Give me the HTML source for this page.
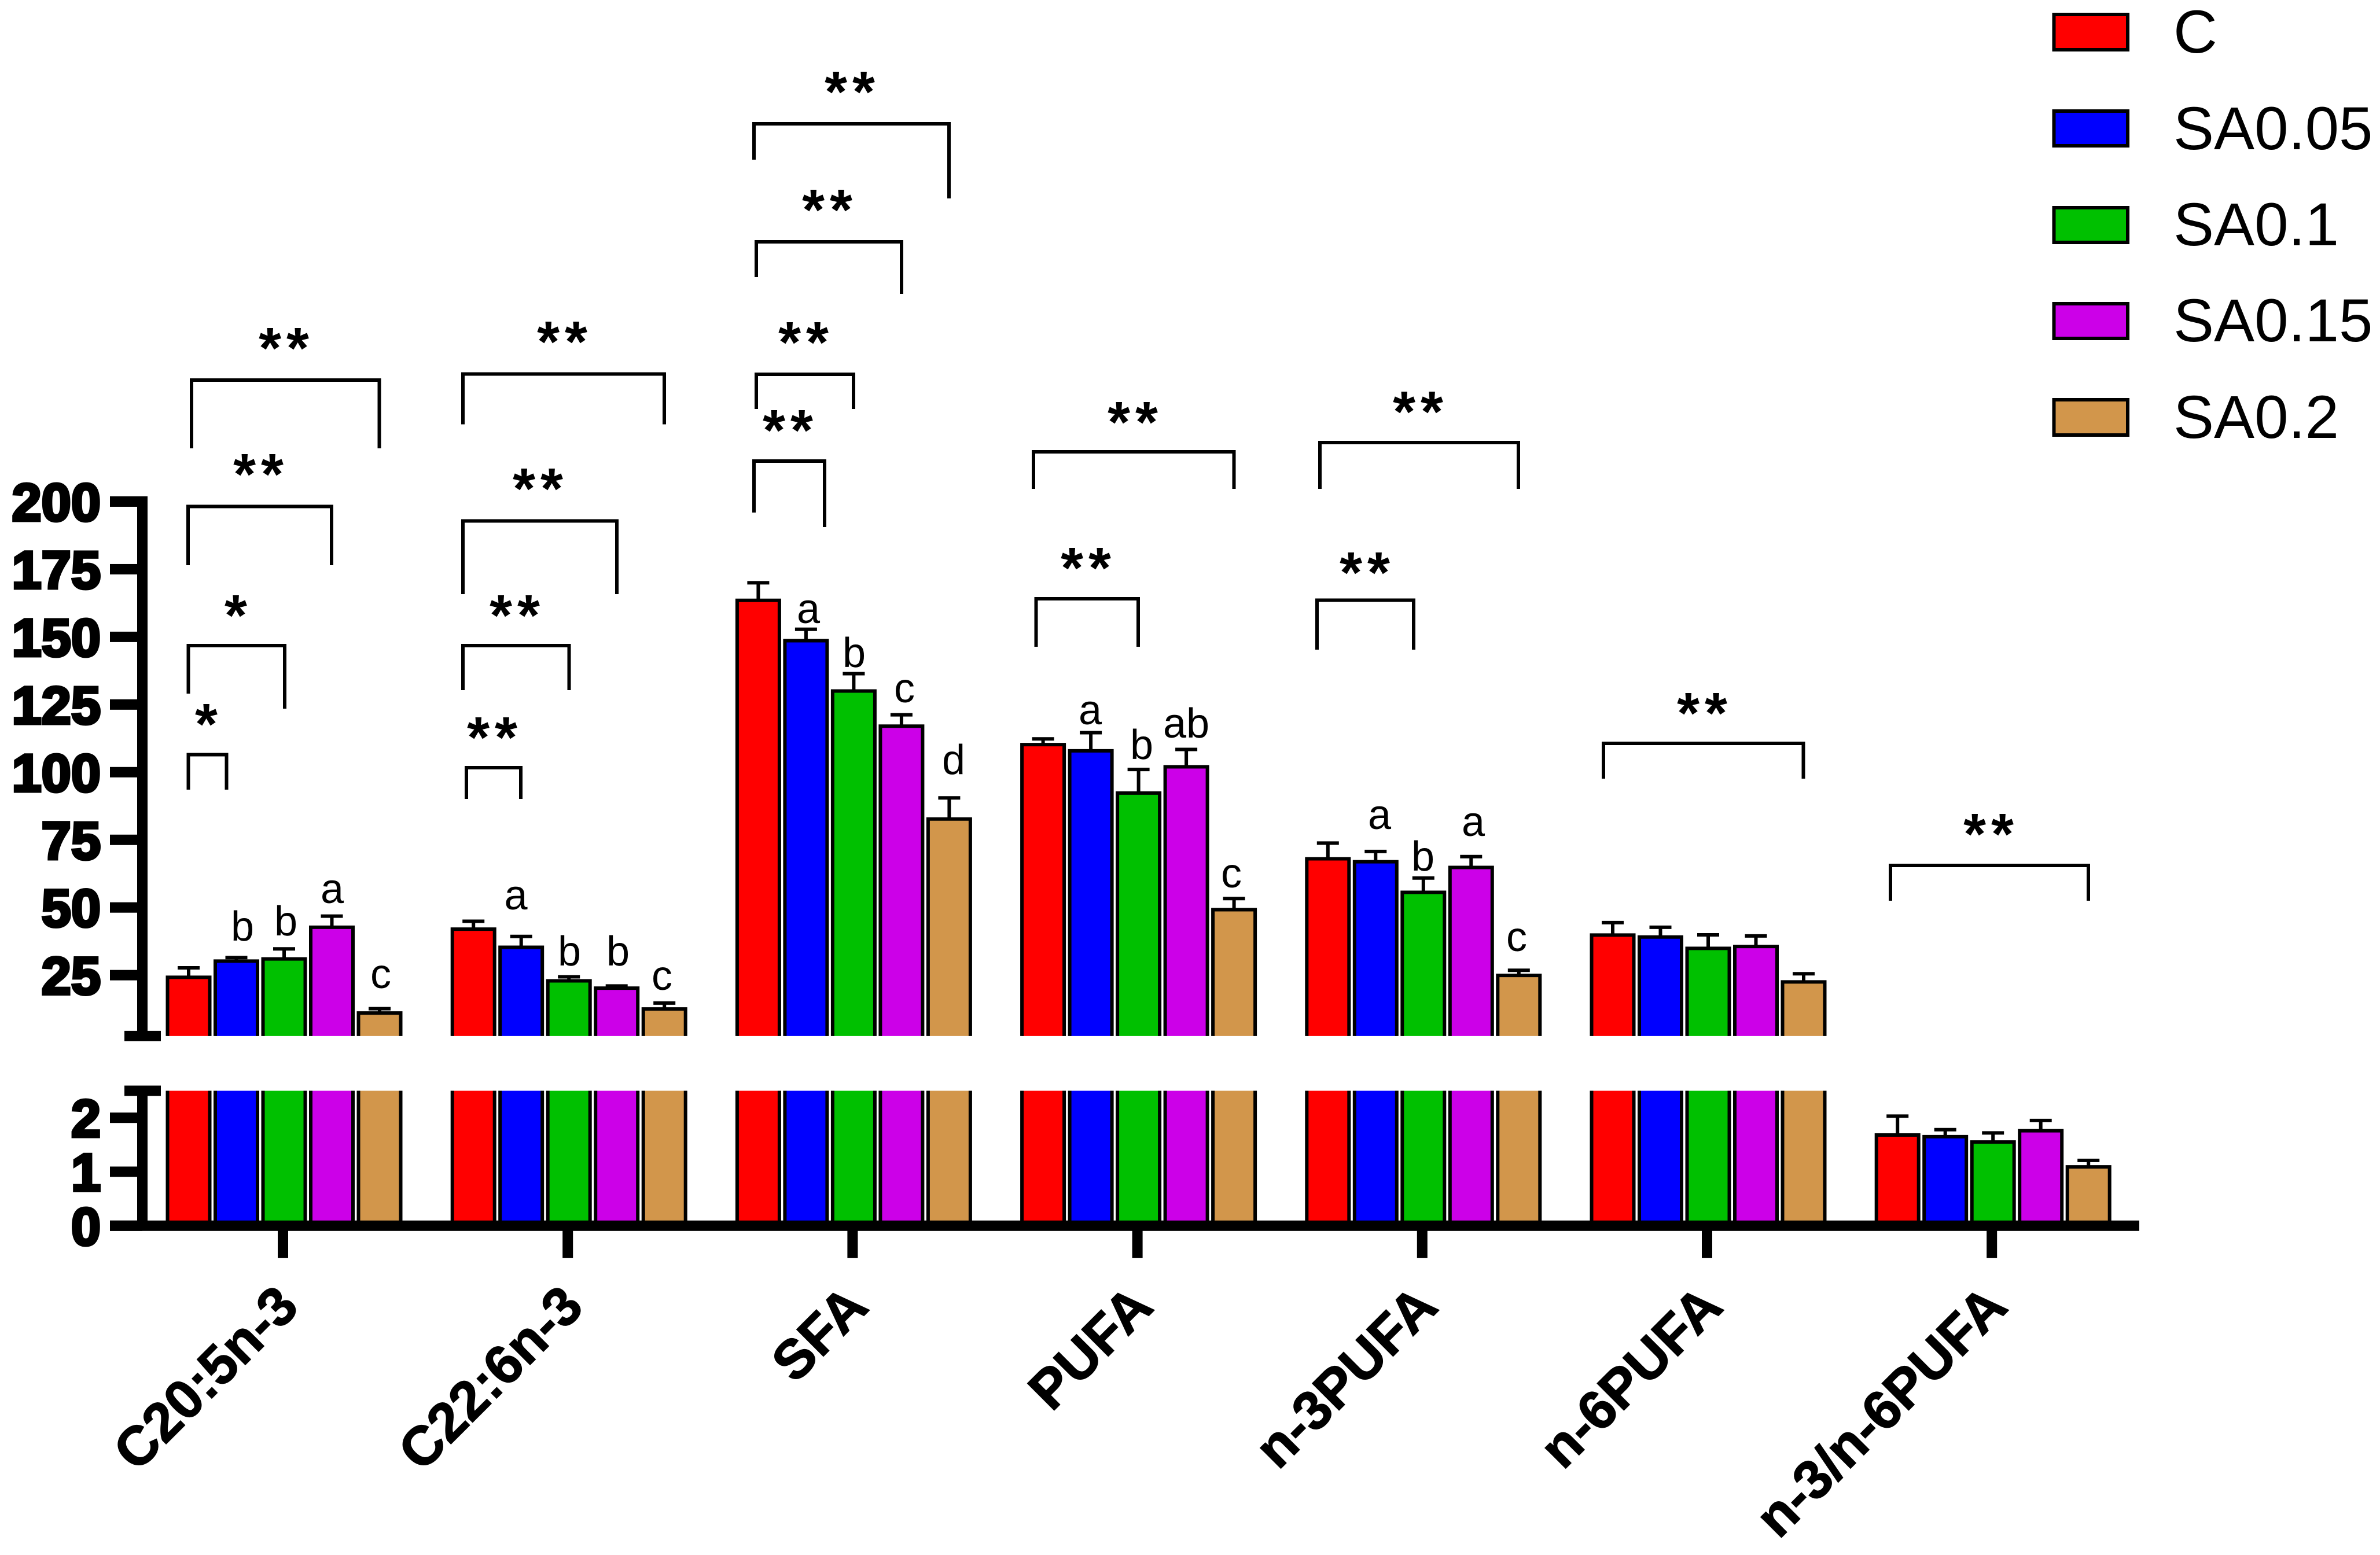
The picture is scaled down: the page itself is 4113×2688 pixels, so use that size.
<!DOCTYPE html>
<html lang="en">
<head>
<meta charset="utf-8">
<title>Fatty acid composition bar chart</title>
<style>
html,body{margin:0;padding:0;background:#fff;}
svg{display:block;font-family:"Liberation Sans",sans-serif;}
.bk{fill:none;stroke:#000;stroke-width:6;}
.st{font-size:100px;font-weight:700;text-anchor:middle;letter-spacing:9px;}
.lt{font-size:72px;text-anchor:middle;}
.lg{font-size:105px;}
</style>
</head>
<body>
<svg id="chart" xmlns="http://www.w3.org/2000/svg" width="4113" height="2688" viewBox="0 0 4113 2688">
<rect width="4113" height="2688" fill="#fff"/>
<g id="marks"></g>
<g id="axes"></g>

<g>
<path class="bk" d="M325.5 1365V1304.5H391.5V1365"/>
<path class="bk" d="M325.5 1199V1116H492V1225"/>
<path class="bk" d="M325 977V875.5H573V977"/>
<path class="bk" d="M331 775V657H655.5V775"/>
<path class="bk" d="M806 1381V1327H900V1381"/>
<path class="bk" d="M800 1193V1116H983.5V1193"/>
<path class="bk" d="M800 1027V900.5H1066V1027"/>
<path class="bk" d="M800 733.5V646.5H1148V733.5"/>
<path class="bk" d="M1303 886V797H1425V911"/>
<path class="bk" d="M1307 707V647H1475V707"/>
<path class="bk" d="M1307 479V418H1558V508"/>
<path class="bk" d="M1303 276V214H1640V343"/>
<path class="bk" d="M1790.5 1118V1035H1967V1118"/>
<path class="bk" d="M1786 845V781H2132.5V845"/>
<path class="bk" d="M2276 1123V1037.5H2443V1123"/>
<path class="bk" d="M2281 845V765H2624V845"/>
<path class="bk" d="M2771 1346V1285H3116.5V1346"/>
<path class="bk" d="M3267 1557V1496H3609V1557"/>
</g>

<g transform="translate(5 -14)">
<text class="st" x="356" y="1300">*</text>
<text class="st" x="407" y="1112">*</text>
<text class="st" x="446" y="868">**</text>
<text class="st" x="490" y="650">**</text>
<text class="st" x="850" y="1323">**</text>
<text class="st" x="889" y="1112">**</text>
<text class="st" x="929" y="893">**</text>
<text class="st" x="971" y="639">**</text>
<text class="st" x="1361" y="792">**</text>
<text class="st" x="1388" y="640">**</text>
<text class="st" x="1429" y="411">**</text>
<text class="st" x="1468" y="207">**</text>
<text class="st" x="1876" y="1030">**</text>
<text class="st" x="1957" y="778">**</text>
<text class="st" x="2358" y="1038">**</text>
<text class="st" x="2450" y="760">**</text>
<text class="st" x="2941" y="1281">**</text>
<text class="st" x="3436" y="1490">**</text>
</g>

<g>
<text class="lt" x="419" y="1626">b</text>
<text class="lt" x="494" y="1617">b</text>
<text class="lt" x="574" y="1561">a</text>
<text class="lt" x="658" y="1708">c</text>
<text class="lt" x="891.5" y="1572">a</text>
<text class="lt" x="984" y="1669">b</text>
<text class="lt" x="1068" y="1669">b</text>
<text class="lt" x="1144" y="1711">c</text>
<text class="lt" x="1397" y="1077">a</text>
<text class="lt" x="1476" y="1153">b</text>
<text class="lt" x="1563" y="1214">c</text>
<text class="lt" x="1648" y="1338">d</text>
<text class="lt" x="1884" y="1252">a</text>
<text class="lt" x="1973" y="1312">b</text>
<text class="lt" x="2050" y="1275">ab</text>
<text class="lt" x="2128" y="1534">c</text>
<text class="lt" x="2384" y="1433">a</text>
<text class="lt" x="2459" y="1505">b</text>
<text class="lt" x="2546" y="1445">a</text>
<text class="lt" x="2621" y="1644">c</text>
</g>

<g>
<g>
<rect x="3549.5" y="25" width="127.5" height="61" fill="#ff0000" stroke="#000" stroke-width="6"/>
<text class="lg" x="3756" y="91">C</text>
</g>
<g>
<rect x="3549.5" y="192" width="127.5" height="60" fill="#0000ff" stroke="#000" stroke-width="6"/>
<text class="lg" x="3756" y="258">SA0.05</text>
</g>
<g>
<rect x="3549.5" y="359" width="127.5" height="60" fill="#00c000" stroke="#000" stroke-width="6"/>
<text class="lg" x="3756" y="424">SA0.1</text>
</g>
<g>
<rect x="3549.5" y="525" width="127.5" height="60" fill="#cc00e8" stroke="#000" stroke-width="6"/>
<text class="lg" x="3756" y="590">SA0.15</text>
</g>
<g>
<rect x="3549.5" y="691" width="127.5" height="61" fill="#d2964b" stroke="#000" stroke-width="6"/>
<text class="lg" x="3756" y="757">SA0.2</text>
</g>
</g>
</svg>

<script>
const categories = ["C20:5n-3", "C22:6n-3", "SFA", "PUFA", "n-3PUFA", "n-6PUFA", "n-3/n-6PUFA"];
const upperTickLabels = [25, 50, 75, 100, 125, 150, 175, 200];
const lowerTickLabels = [0, 1, 2];
const segmentBreak = 2.5;

const valuesC = [24.2, 42, 163.5, 110.2, 68, 39.8, 1.68];
const valuesSA005 = [30.2, 35.3, 148.6, 107.9, 66.9, 39.1, 1.65];
const valuesSA01 = [31, 22.9, 130, 92.3, 55.6, 34.9, 1.55];
const valuesSA015 = [42.7, 20.2, 117, 102, 64.8, 35.6, 1.76];
const valuesSA02 = [11, 12.5, 82.7, 49.2, 24.9, 22.5, 1.09];

const errorsC = [3.5, 2.9, 6.5, 2.1, 5.8, 4.6, 0.35];
const errorsSA005 = [1.3, 4, 4.2, 6.7, 3.8, 3.6, 0.13];
const errorsSA01 = [3.7, 1.5, 6.4, 8.7, 5.3, 5, 0.17];
const errorsSA015 = [4.1, 0.8, 4.2, 6.4, 4, 3.9, 0.19];
const errorsSA02 = [1.6, 2.2, 7.8, 4.1, 1.9, 3, 0.12];

const seriesNames = ["C", "SA0.05", "SA0.1", "SA0.15", "SA0.2"];
const seriesColors = ["#ff0000", "#0000ff", "#00c000", "#cc00e8", "#d2964b"];
const seriesValues = [valuesC, valuesSA005, valuesSA01, valuesSA015, valuesSA02];
const seriesErrors = [errorsC, errorsSA005, errorsSA01, errorsSA015, errorsSA02];

const NS = "http://www.w3.org/2000/svg";
const marks = document.getElementById("marks");
const axes = document.getElementById("axes");

function yUpper(v) { return 867 + (200 - v) * 4.678; }
function yLower(v) { return 2118.8 - v * 93.3; }
function yValue(v) { return v > segmentBreak ? yUpper(v) : yLower(v); }
function xTick(i) { return 489 + 492.2 * i; }
function xBar(i, s) { return xTick(i) + 2 + (s - 2) * 82.5; }

function make(tag, attrs, parent) {
  const el = document.createElementNS(NS, tag);
  for (const k in attrs) el.setAttribute(k, attrs[k]);
  parent.appendChild(el);
  return el;
}

const BAR_W = 73;
categories.forEach(function (cat, i) {
  seriesValues.forEach(function (vals, s) {
    const v = vals[i];
    const e = seriesErrors[s][i];
    const cx = xBar(i, s);
    const l = cx - BAR_W / 2;
    const r = cx + BAR_W / 2;
    const top = yValue(v);
    const cap = yValue(v + e);

    const err = make("path", {
      d: "M" + cx + " " + top + "V" + cap + "M" + (cx - 19) + " " + cap + "H" + (cx + 19),
      fill: "none", stroke: "#000", "stroke-width": 6
    }, marks);
    
    

    if (v > segmentBreak) {
      const upper = make("path", {
        d: "M" + l + " " + yUpper(segmentBreak) + "V" + top + "H" + r + "V" + yUpper(segmentBreak),
        fill: seriesColors[s], stroke: "#000", "stroke-width": 6
      }, marks);
      
      

      const lowerFill = make("rect", {
        x: l, y: yLower(segmentBreak), width: BAR_W, height: yLower(0) - yLower(segmentBreak),
        fill: seriesColors[s]
      }, marks);
      
      

      const lower = make("path", {
        d: "M" + l + " " + yLower(0) + "V" + yLower(segmentBreak) + "M" + r + " " + yLower(segmentBreak) + "V" + yLower(0),
        fill: "none", stroke: "#000", "stroke-width": 6
      }, marks);
      
      
    } else {
      const low = make("path", {
        d: "M" + l + " " + yLower(0) + "V" + top + "H" + r + "V" + yLower(0),
        fill: seriesColors[s], stroke: "#000", "stroke-width": 6
      }, marks);
      
      
    }
  });

  const tick = make("rect", { x: xTick(i) - 9, y: yLower(0), width: 18, height: 56, fill: "#000" }, axes);
  
  

  const tx = xTick(i) + 31;
  const ty = 2263;
  const label = make("text", {
    x: tx, y: ty, transform: "rotate(-45 " + tx + " " + ty + ")", "text-anchor": "end",
    "font-size": 95, "font-weight": 700, stroke: "#000", "stroke-width": 1.5, fill: "#000"
  }, axes);
  
  
  label.textContent = cat;
});

function yTick(y, text) {
  const t = make("rect", { x: 190, y: y - 9, width: 56, height: 18, fill: "#000" }, axes);
  
  

  const lab = make("text", {
    x: 174, y: y + 33, "text-anchor": "end", "font-size": 92, "font-weight": 700,
    stroke: "#000", "stroke-width": 5, fill: "#000"
  }, axes);
  
  
  lab.textContent = text;
}
upperTickLabels.forEach(function (v) { yTick(yUpper(v), String(v)); });
lowerTickLabels.forEach(function (v) { yTick(yLower(v), String(v)); });

const yUp = make("rect", { x: 237, y: yUpper(200) - 9, width: 18, height: yUpper(segmentBreak) - yUpper(200) + 9, fill: "#000" }, axes);



const yLow = make("rect", { x: 237, y: yLower(segmentBreak), width: 18, height: yLower(0) - yLower(segmentBreak), fill: "#000" }, axes);



const capUp = make("rect", { x: 215, y: yUpper(segmentBreak) - 9, width: 63, height: 18, fill: "#000" }, axes);



const capLow = make("rect", { x: 215, y: yLower(segmentBreak) - 9, width: 63, height: 18, fill: "#000" }, axes);



const xLine = make("rect", { x: 190, y: yLower(0) - 9, width: 3507, height: 18, fill: "#000" }, axes);


</script>
</body>
</html>
